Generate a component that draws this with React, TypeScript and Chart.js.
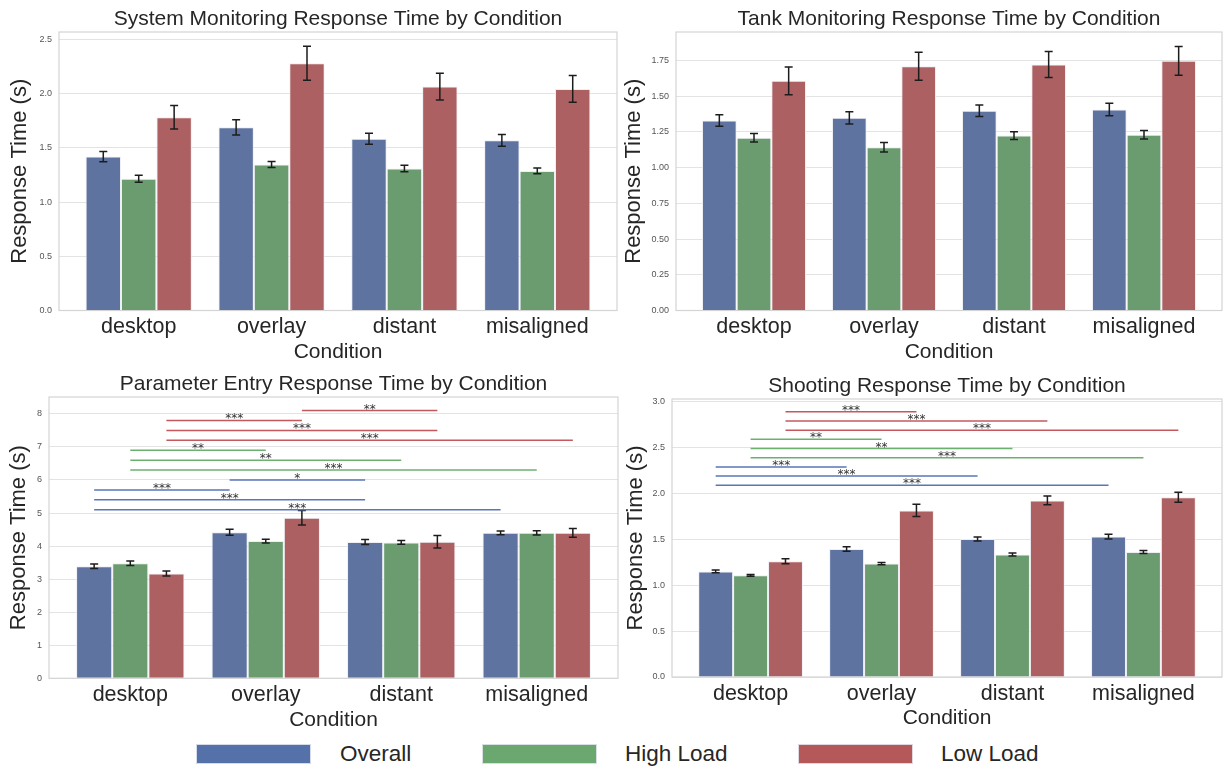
import React, { useEffect, useRef } from "react";
import { Chart, registerables } from "chart.js";

Chart.register(...registerables);

const FONT = "'Liberation Sans', Arial, sans-serif";

const categories = ["desktop", "overlay", "distant", "misaligned"];
const seriesNames = ["Overall", "High Load", "Low Load"];
const barColors = ["#5e73a0", "#6a9c70", "#ac6062"];
const legendColors = ["#5571aa", "#6aa870", "#b55859"];
const sigColors = ["#5876b8", "#6cb070", "#c4585d"];

// System Monitoring
const sysOverall = [1.42, 1.69, 1.585, 1.57];
const sysHigh = [1.215, 1.347, 1.31, 1.288];
const sysLow = [1.783, 2.282, 2.066, 2.045];
const sysOverallErr = [0.048, 0.071, 0.05, 0.054];
const sysHighErr = [0.032, 0.028, 0.03, 0.026];
const sysLowErr = [0.108, 0.157, 0.123, 0.123];
const sysTicks = [0, 0.5, 1, 1.5, 2, 2.5];

// Tank Monitoring
const tankOverall = [1.33, 1.349, 1.398, 1.407];
const tankHigh = [1.209, 1.143, 1.225, 1.23];
const tankLow = [1.608, 1.71, 1.722, 1.748];
const tankOverallErr = [0.04, 0.043, 0.04, 0.044];
const tankHighErr = [0.03, 0.033, 0.027, 0.03];
const tankLowErr = [0.097, 0.098, 0.091, 0.101];
const tankTicks = [0, 0.25, 0.5, 0.75, 1, 1.25, 1.5, 1.75];

// Parameter Entry
const paramOverall = [3.39, 4.42, 4.12, 4.4];
const paramHigh = [3.48, 4.15, 4.11, 4.4];
const paramLow = [3.17, 4.86, 4.13, 4.4];
const paramOverallErr = [0.07, 0.09, 0.076, 0.056];
const paramHighErr = [0.066, 0.06, 0.056, 0.066];
const paramLowErr = [0.076, 0.22, 0.187, 0.13];
const paramTicks = [0, 1, 2, 3, 4, 5, 6, 7, 8];
// [series, fromCategory, toCategory, y, label]
const paramSig: [number, number, number, number, string][] = [
  [0, 0, 3, 5.1, "***"],
  [0, 0, 2, 5.4, "***"],
  [0, 0, 1, 5.7, "***"],
  [0, 1, 2, 6.0, "*"],
  [1, 0, 3, 6.3, "***"],
  [1, 0, 2, 6.6, "**"],
  [1, 0, 1, 6.9, "**"],
  [2, 0, 3, 7.2, "***"],
  [2, 0, 2, 7.5, "***"],
  [2, 0, 1, 7.8, "***"],
  [2, 1, 2, 8.1, "**"],
];

// Shooting
const shootOverall = [1.15, 1.395, 1.503, 1.53];
const shootHigh = [1.108, 1.236, 1.335, 1.362];
const shootLow = [1.262, 1.815, 1.925, 1.96];
const shootOverallErr = [0.015, 0.025, 0.022, 0.027];
const shootHighErr = [0.01, 0.013, 0.016, 0.016];
const shootLowErr = [0.027, 0.067, 0.047, 0.055];
const shootTicks = [0, 0.5, 1, 1.5, 2, 2.5, 3];
const shootSig: [number, number, number, number, string][] = [
  [0, 0, 3, 2.09, "***"],
  [0, 0, 2, 2.19, "***"],
  [0, 0, 1, 2.29, "***"],
  [1, 0, 3, 2.39, "***"],
  [1, 0, 2, 2.49, "**"],
  [1, 0, 1, 2.59, "**"],
  [2, 0, 3, 2.69, "***"],
  [2, 0, 2, 2.79, "***"],
  [2, 0, 1, 2.89, "***"],
];

type Spec = {
  title: string;
  values: number[][];
  errors: number[][];
  yMax: number;
  yTicks: number[];
  dec: number;
  sig: [number, number, number, number, string][];
  box: { left: number; top: number; width: number; height: number };
  yAxisW: number;
  padTop: number;
  padRight: number;
  xAxisH: number;
  yTitlePad: number;
  xTickPad: number;
  xTitlePad: number;
};

const specs: Spec[] = [
  {
    title: "System Monitoring Response Time by Condition",
    values: [sysOverall, sysHigh, sysLow],
    errors: [sysOverallErr, sysHighErr, sysLowErr],
    yMax: 2.57,
    yTicks: sysTicks,
    dec: 1,
    sig: [],
    box: { left: 0, top: 0, width: 620, height: 370 },
    yAxisW: 59,
    padTop: 32,
    padRight: 3,
    xAxisH: 59.5,
    yTitlePad: 7,
    xTickPad: 4,
    xTitlePad: 5,
  },
  {
    title: "Tank Monitoring Response Time by Condition",
    values: [tankOverall, tankHigh, tankLow],
    errors: [tankOverallErr, tankHighErr, tankLowErr],
    yMax: 1.95,
    yTicks: tankTicks,
    dec: 2,
    sig: [],
    box: { left: 620, top: 0, width: 605, height: 370 },
    yAxisW: 56,
    padTop: 32,
    padRight: 3,
    xAxisH: 59.5,
    yTitlePad: 1,
    xTickPad: 4,
    xTitlePad: 5,
  },
  {
    title: "Parameter Entry Response Time by Condition",
    values: [paramOverall, paramHigh, paramLow],
    errors: [paramOverallErr, paramHighErr, paramLowErr],
    yMax: 8.51,
    yTicks: paramTicks,
    dec: 0,
    sig: paramSig,
    box: { left: 0, top: 370, width: 620, height: 370 },
    yAxisW: 49,
    padTop: 27,
    padRight: 2,
    xAxisH: 61.7,
    yTitlePad: 5.5,
    xTickPad: 4,
    xTitlePad: 7,
  },
  {
    title: "Shooting Response Time by Condition",
    values: [shootOverall, shootHigh, shootLow],
    errors: [shootOverallErr, shootHighErr, shootLowErr],
    yMax: 3.03,
    yTicks: shootTicks,
    dec: 1,
    sig: shootSig,
    box: { left: 612, top: 370, width: 613, height: 370 },
    yAxisW: 60,
    padTop: 29,
    padRight: 3,
    xAxisH: 63,
    yTitlePad: 11,
    xTickPad: 4,
    xTitlePad: 9,
  },
];

function makeConfig(spec: Spec): any {
  const framePlugin = {
    id: "frame",
    beforeDatasetsDraw(chart: any) {
      const { ctx, chartArea: a } = chart;
      ctx.save();
      ctx.strokeStyle = "#d4d4d4";
      ctx.lineWidth = 1.2;
      ctx.strokeRect(a.left, a.top, a.right - a.left, a.bottom - a.top);
      ctx.restore();
    },
  };
  const titlePlugin = {
    id: "axTitle",
    afterDraw(chart: any) {
      const { ctx, chartArea: a } = chart;
      ctx.save();
      ctx.font = `21px ${FONT}`;
      ctx.fillStyle = "#262626";
      ctx.textAlign = "center";
      ctx.textBaseline = "middle";
      ctx.fillText(spec.title, (a.left + a.right) / 2, a.top - 13);
      ctx.restore();
    },
  };
  const errPlugin = {
    id: "errbars",
    afterDatasetsDraw(chart: any) {
      const { ctx } = chart;
      const ys = chart.scales.y;
      ctx.save();
      ctx.strokeStyle = "#1c1c1c";
      ctx.lineWidth = 1.5;
      spec.values.forEach((vals, s) => {
        const meta = chart.getDatasetMeta(s);
        vals.forEach((v, j) => {
          const e = spec.errors[s][j];
          const x = meta.data[j].x;
          const y1 = ys.getPixelForValue(v + e);
          const y2 = ys.getPixelForValue(v - e);
          ctx.beginPath();
          ctx.moveTo(x, y1);
          ctx.lineTo(x, y2);
          ctx.moveTo(x - 4, y1);
          ctx.lineTo(x + 4, y1);
          ctx.moveTo(x - 4, y2);
          ctx.lineTo(x + 4, y2);
          ctx.stroke();
        });
      });
      ctx.restore();
    },
  };
  const sigPlugin = {
    id: "sig",
    afterDatasetsDraw(chart: any) {
      const { ctx } = chart;
      const ys = chart.scales.y;
      ctx.save();
      for (const [s, from, to, yv, label] of spec.sig) {
        const meta = chart.getDatasetMeta(s);
        const x1 = meta.data[from].x;
        const x2 = meta.data[to].x;
        const y = ys.getPixelForValue(yv);
        ctx.strokeStyle = sigColors[s];
        ctx.lineWidth = 1.5;
        ctx.beginPath();
        ctx.moveTo(x1, y);
        ctx.lineTo(x2, y);
        ctx.stroke();
        ctx.fillStyle = "#333";
        ctx.font = "12px 'DejaVu Sans', sans-serif";
        ctx.textAlign = "center";
        ctx.textBaseline = "alphabetic";
        ctx.fillText(label, (x1 + x2) / 2, y + 2);
      }
      ctx.restore();
    },
  };

  return {
    type: "bar",
    data: {
      datasets: seriesNames.map((name, i) => ({
        label: name,
        data: spec.values[i].map((v, j) => ({ x: j, y: v })),
        backgroundColor: barColors[i],
        borderColor: "rgba(236,236,244,0.9)",
        borderWidth: 1,
        categoryPercentage: 0.8,
        barPercentage: 1,
      })),
    },
    options: {
      animation: false,
      responsive: false,
      maintainAspectRatio: false,
      layout: { padding: { left: 0, right: spec.padRight, top: spec.padTop, bottom: 0 } },
      plugins: { legend: { display: false }, tooltip: { enabled: false }, title: { display: false } },
      scales: {
        x: {
          type: "linear",
          min: -0.6,
          max: 3.6,
          offset: false,
          grid: { display: false, drawTicks: false },
          border: { display: false },
          afterBuildTicks: (axis: any) => {
            axis.ticks = categories.map((_, i) => ({ value: i }));
          },
          ticks: {
            autoSkip: false,
            maxRotation: 0,
            minRotation: 0,
            padding: spec.xTickPad,
            color: "#262626",
            font: { size: 21.5, family: FONT },
            callback: (v: any) => categories[Math.round(Number(v))] ?? "",
          },
          title: {
            display: true,
            text: "Condition",
            color: "#262626",
            font: { size: 21, family: FONT },
            padding: { top: 0, bottom: spec.xTitlePad },
          },
          afterFit: (s: any) => {
            s.height = spec.xAxisH;
          },
        },
        y: {
          type: "linear",
          min: 0,
          max: spec.yMax,
          afterBuildTicks: (axis: any) => {
            axis.ticks = spec.yTicks.map((v) => ({ value: v }));
          },
          grid: { color: "#e3e3e3", lineWidth: 1, drawTicks: false },
          border: { display: false },
          ticks: {
            padding: 7,
            color: "#555",
            font: { size: 9, family: FONT },
            callback: (v: any) => Number(v).toFixed(spec.dec),
          },
          title: {
            display: true,
            text: "Response Time (s)",
            color: "#262626",
            font: { size: 22, family: FONT },
            padding: { top: spec.yTitlePad, bottom: 0 },
          },
          afterFit: (s: any) => {
            s.width = spec.yAxisW;
          },
        },
      },
    },
    plugins: [framePlugin, errPlugin, sigPlugin, titlePlugin],
  };
}

function Panel({ spec }: { spec: Spec }) {
  const ref = useRef<HTMLCanvasElement>(null);
  useEffect(() => {
    const chart = new Chart(ref.current as HTMLCanvasElement, makeConfig(spec));
    return () => chart.destroy();
  }, [spec]);
  return (
    <canvas
      ref={ref}
      width={spec.box.width}
      height={spec.box.height}
      style={{
        position: "absolute",
        left: spec.box.left,
        top: spec.box.top,
        width: spec.box.width,
        height: spec.box.height,
      }}
    />
  );
}

const legendPatchX = [196, 482, 798];
const legendTextX = [340, 625, 941];

export default function App() {
  return (
    <div
      style={{
        position: "fixed",
        left: 0,
        top: 0,
        width: 1225,
        height: 770,
        background: "#fff",
        overflow: "hidden",
        fontFamily: FONT,
      }}
    >
      {specs.map((s, i) => (
        <Panel key={i} spec={s} />
      ))}
      {seriesNames.map((name, i) => (
        <React.Fragment key={name}>
          <div
            style={{
              position: "absolute",
              left: legendPatchX[i],
              top: 744,
              width: 115,
              height: 20,
              background: legendColors[i],
              boxSizing: "border-box",
              border: "1px solid rgba(230,230,240,0.9)",
            }}
          />
          <div
            style={{
              position: "absolute",
              left: legendTextX[i],
              top: 740,
              height: 28,
              lineHeight: "28px",
              fontSize: 22.5,
              color: "#262626",
              whiteSpace: "nowrap",
            }}
          >
            {name}
          </div>
        </React.Fragment>
      ))}
    </div>
  );
}
